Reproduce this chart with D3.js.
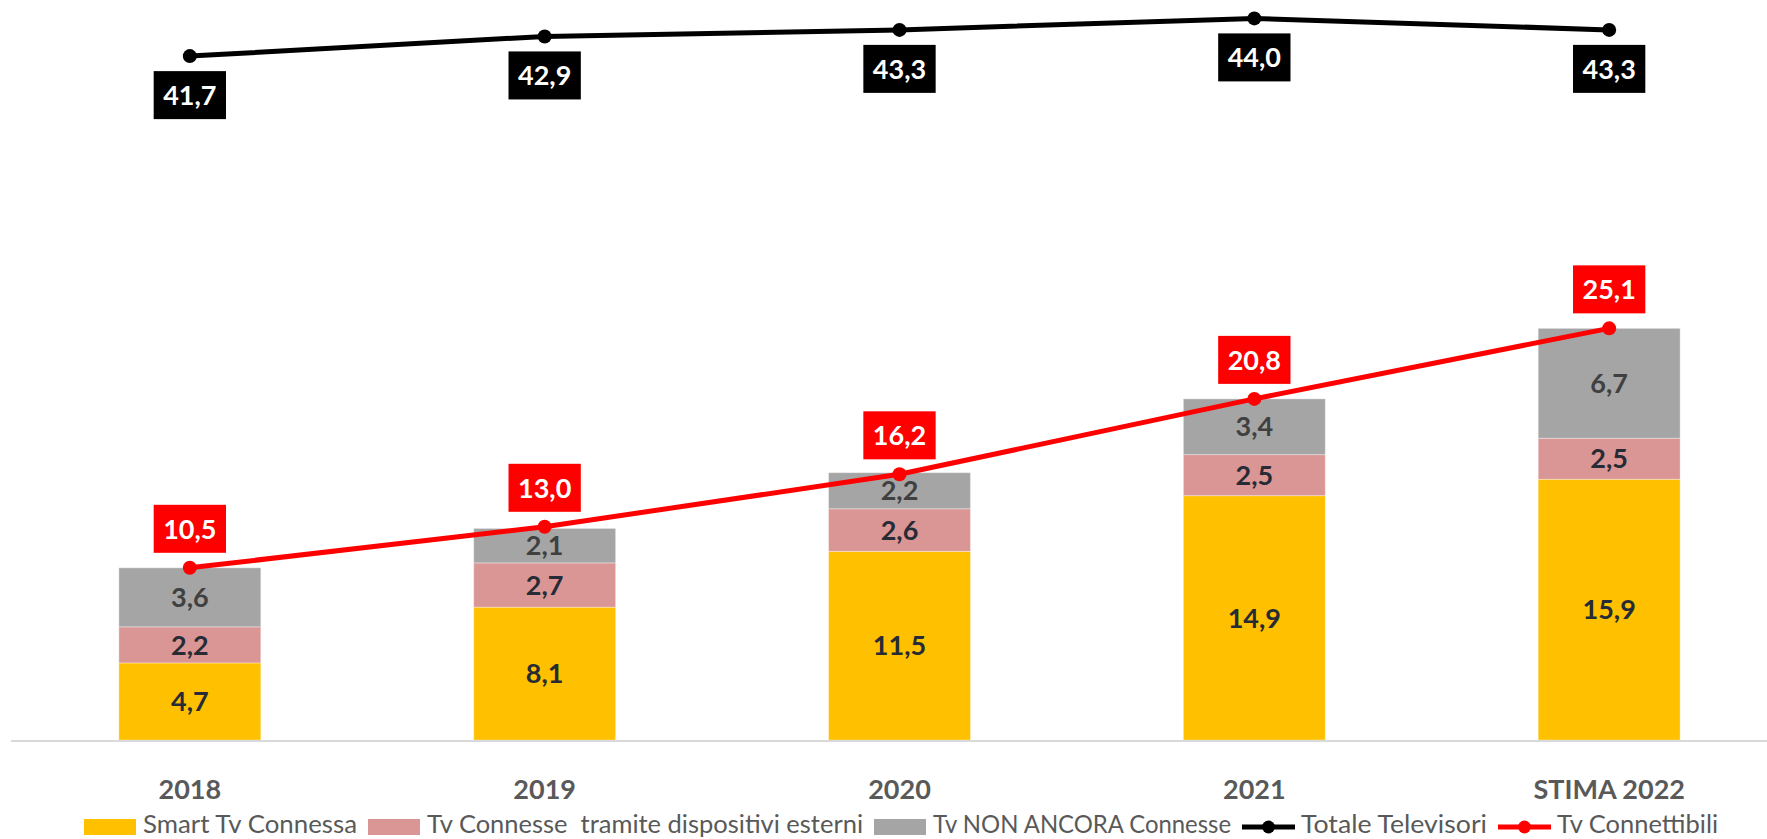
<!DOCTYPE html>
<html>
<head>
<meta charset="utf-8">
<script src="https://cdn.jsdelivr.net/npm/d3@7"></script>
<style>
  body { margin: 0; background: #fff; }
  text { font-family: Lato, "Open Sans", sans-serif; }
</style>
</head>
<body>
<div id="chart"></div>
<script>
// data
var years = ["2018", "2019", "2020", "2021", "STIMA 2022"];
var smartTv = [4.7, 8.1, 11.5, 14.9, 15.9];
var tvEsterni = [2.2, 2.7, 2.6, 2.5, 2.5];
var tvNonConnesse = [3.6, 2.1, 2.2, 3.4, 6.7];
var totaleTv = [41.7, 42.9, 43.3, 44.0, 43.3];
var tvConnettibili = [10.5, 13.0, 16.2, 20.8, 25.1];

var barSeries = [
  {name: "Smart Tv Connessa", values: smartTv, color: "#FFC000", label: "#262b36"},
  {name: "Tv Connesse  tramite dispositivi esterni", values: tvEsterni, color: "#DA9694", label: "#262b36"},
  {name: "Tv NON ANCORA Connesse", values: tvNonConnesse, color: "#A5A5A5", label: "#404040"}
];
var lineSeries = [
  {name: "Totale Televisori", values: totaleTv, color: "#000000", below: true},
  {name: "Tv Connettibili", values: tvConnettibili, color: "#FF0000", below: false}
];

var width = 1767, height = 839;
var fmt = function(v) { return d3.format(".1f")(v).replace(".", ","); };

var svg = d3.select("#chart")
  .append("svg")
    .attr("width", width)
    .attr("height", height);

var x = d3.scaleBand()
  .domain(years)
  .range([0, 1799])
  .paddingInner(0.6)
  .paddingOuter(0.335);

var y = d3.scaleLinear()
  .domain([0, 45])
  .range([740, 2]);

// stacked bars
var rows = years.map(function(yr, i) {
  var r = {year: yr};
  barSeries.forEach(function(s) { r[s.name] = s.values[i]; });
  return r;
});
var stack = d3.stack().keys(barSeries.map(function(s) { return s.name; }))(rows);

stack.forEach(function(layer, li) {
  var s = barSeries[li];
  var g = svg.append("g");
  g.selectAll("rect")
    .data(layer)
    .enter()
    .append("rect")
      .attr("x", function(d) { return x(d.data.year); })
      .attr("y", function(d) { return y(d[1]); })
      .attr("width", x.bandwidth())
      .attr("height", function(d) { return y(d[0]) - y(d[1]); })
      .attr("fill", s.color)
      .attr("stroke", "rgba(255,255,255,0.35)")
      .attr("stroke-width", 1);
  g.selectAll("text")
    .data(layer)
    .enter()
    .append("text")
      .attr("x", function(d) { return x(d.data.year) + x.bandwidth() / 2; })
      .attr("y", function(d) { return (y(d[0]) + y(d[1])) / 2; })
      .attr("dy", "0.36em")
      .attr("text-anchor", "middle")
      .attr("font-size", 27)
      .attr("font-weight", "bold")
      .attr("fill", s.label)
      .text(function(d) { return fmt(d[1] - d[0]); });
});

// baseline
svg.append("line")
  .attr("x1", 11).attr("x2", width)
  .attr("y1", y(0) + 1).attr("y2", y(0) + 1)
  .attr("stroke", "#d9d9d9")
  .attr("stroke-width", 2);

// category labels
var xAxis = svg.append("g")
  .attr("transform", "translate(0," + y(0) + ")")
  .call(d3.axisBottom(x).tickSize(0).tickPadding(40));
xAxis.select(".domain").remove();
xAxis.selectAll("text")
  .attr("font-size", 27)
  .attr("font-weight", "bold")
  .attr("font-family", "Lato, sans-serif")
  .attr("fill", "#595959");

// lines
var cx = function(i) { return x(years[i]) + x.bandwidth() / 2; };
lineSeries.forEach(function(s) {
  var line = d3.line()
    .x(function(d, i) { return cx(i); })
    .y(function(d) { return y(d); });
  svg.append("path")
    .datum(s.values)
    .attr("d", line)
    .attr("fill", "none")
    .attr("stroke", s.color)
    .attr("stroke-width", 5)
    .attr("stroke-linejoin", "round");
  svg.selectAll(null)
    .data(s.values)
    .enter()
    .append("circle")
      .attr("cx", function(d, i) { return cx(i); })
      .attr("cy", function(d) { return y(d); })
      .attr("r", 7)
      .attr("fill", s.color);

  var lab = svg.selectAll(null)
    .data(s.values)
    .enter()
    .append("g")
      .attr("transform", function(d, i) {
        var ty = s.below ? y(d) + 15 + 24 : y(d) - 15 - 24;
        return "translate(" + cx(i) + "," + ty + ")";
      });
  lab.append("text")
    .attr("text-anchor", "middle")
    .attr("dy", "0.36em")
    .attr("font-size", 27)
    .attr("font-weight", "bold")
    .attr("fill", "#fff")
    .text(fmt);
  lab.each(function() {
    var g = d3.select(this);
    var w = g.select("text").node().getComputedTextLength() + 19;
    g.insert("rect", "text")
      .attr("x", -w / 2)
      .attr("y", -24)
      .attr("width", w)
      .attr("height", 48)
      .attr("fill", s.color);
  });
});

// legend (text widths stretched to match the original rendering)
var legendItems = barSeries.map(function(s) { return {name: s.name, color: s.color, type: "box"}; })
  .concat(lineSeries.map(function(s) { return {name: s.name, color: s.color, type: "line"}; }));
var legendTextWidths = [214, 436, 298, 186, 161];
var legend = svg.append("g").attr("transform", "translate(0,827)");
var lx = 84;
legendItems.forEach(function(it, i) {
  var g = legend.append("g").attr("transform", "translate(" + lx + ",0)");
  if (it.type === "box") {
    g.append("rect").attr("x", 0).attr("y", -8).attr("width", 52).attr("height", 16).attr("fill", it.color);
  } else {
    g.append("line").attr("x1", 0).attr("x2", 53).attr("y1", 0).attr("y2", 0)
      .attr("stroke", it.color).attr("stroke-width", 5);
    g.append("circle").attr("cx", 26.5).attr("cy", 0).attr("r", 6.5).attr("fill", it.color);
  }
  var tx = 59;
  g.append("text")
    .attr("x", tx)
    .attr("y", -3)
    .attr("dy", "0.36em")
    .attr("font-size", 25)
    .attr("fill", "#595959")
    .attr("xml:space", "preserve")
    .attr("textLength", legendTextWidths[i])
    .attr("lengthAdjust", "spacingAndGlyphs")
    .text(it.name);
  lx += tx + legendTextWidths[i] + 11;
});
</script>
</body>
</html>
